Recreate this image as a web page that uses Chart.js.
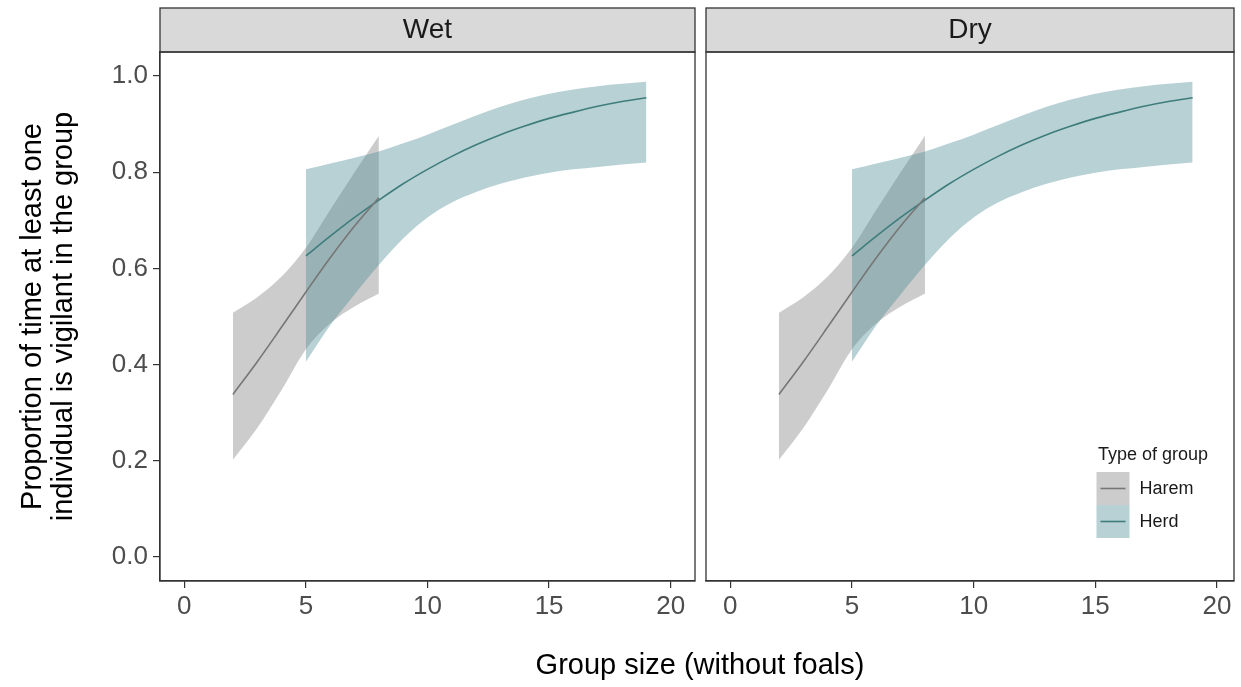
<!DOCTYPE html>
<html>
<head>
<meta charset="utf-8">
<script src="https://cdn.jsdelivr.net/npm/chart.js@4.4.1/dist/chart.umd.min.js"></script>
<style>
  html, body { margin: 0; padding: 0; background: #ffffff; }
  #wrap { position: relative; width: 1241px; height: 687px; overflow: hidden; }
  canvas { position: absolute; top: 0; }
  #cLeft { left: 0; }
  #cRight { left: 700px; }
  #xTitle { position: absolute; left: 450px; width: 500px; top: 647px; text-align: center;
            font-family: "Liberation Sans", Arial, Helvetica, sans-serif; font-size: 29px;
            line-height: 34px; color: #000000; }
</style>
</head>
<body>
<div id="wrap">
  <canvas id="cLeft" width="700" height="687"></canvas>
  <canvas id="cRight" width="541" height="687"></canvas>
  <div id="xTitle">Group size (without foals)</div>
</div>
<script>
// ---------- data ----------
const panelNames = ['Wet', 'Dry'];
const seriesNames = ['Harem', 'Herd'];
const legendTitle = 'Type of group';
const yAxisTitle = ['Proportion of time at least one', 'individual is vigilant in the group'];

const xTickValues = [0, 5, 10, 15, 20];
const yTickValues = [0.0, 0.2, 0.4, 0.6, 0.8, 1.0];

const haremSize  = [2, 3, 4, 5, 6, 7, 8];
const haremFit   = [0.338, 0.406, 0.478, 0.551, 0.622, 0.688, 0.747];
const haremUpper = [0.508, 0.540, 0.583, 0.643, 0.722, 0.800, 0.876];
const haremLower = [0.202, 0.268, 0.347, 0.432, 0.486, 0.521, 0.548];

const herdSize  = [5, 6, 7, 8, 9, 10, 11, 12, 13, 14, 15, 16, 17, 18, 19];
const herdFit   = [0.626, 0.667, 0.706, 0.742, 0.776, 0.806, 0.833, 0.857, 0.878, 0.896, 0.912, 0.925, 0.937, 0.947, 0.955];
const herdUpper = [0.806, 0.818, 0.830, 0.843, 0.860, 0.878, 0.898, 0.918, 0.936, 0.951, 0.963, 0.972, 0.979, 0.984, 0.988];
const herdLower = [0.406, 0.482, 0.546, 0.607, 0.662, 0.706, 0.737, 0.759, 0.776, 0.789, 0.799, 0.806, 0.811, 0.816, 0.820];

// ---------- style ----------
const FONT = '"Liberation Sans", Arial, Helvetica, sans-serif';
const haremLineColor = '#767676';
const herdLineColor  = '#3f7d7d';
const haremFillColor = 'rgba(128,128,128,0.40)';
const herdFillColor  = 'rgba(78,139,150,0.40)';
const frameColor = '#333333';
const stripFill = '#d9d9d9';

function pts(xs, ys) { return xs.map((x, i) => ({ x: x, y: ys[i] })); }

function makeDatasets() {
  const base = { pointRadius: 0, pointHoverRadius: 0, cubicInterpolationMode: 'monotone', tension: 0.4 };
  return [
    Object.assign({}, base, { label: seriesNames[0], data: pts(haremSize, haremFit),
      borderColor: haremLineColor, borderWidth: 1.6, fill: false, order: 0 }),
    Object.assign({}, base, { label: seriesNames[1], data: pts(herdSize, herdFit),
      borderColor: herdLineColor, borderWidth: 1.6, fill: false, order: 0 }),
    Object.assign({}, base, { label: seriesNames[0] + ' upper', data: pts(haremSize, haremUpper),
      borderColor: 'rgba(0,0,0,0)', borderWidth: 0, backgroundColor: haremFillColor, fill: '+1', order: 2 }),
    Object.assign({}, base, { label: seriesNames[0] + ' lower', data: pts(haremSize, haremLower),
      borderColor: 'rgba(0,0,0,0)', borderWidth: 0, fill: false, order: 2 }),
    Object.assign({}, base, { label: seriesNames[1] + ' upper', data: pts(herdSize, herdUpper),
      borderColor: 'rgba(0,0,0,0)', borderWidth: 0, backgroundColor: herdFillColor, fill: '+1', order: 1 }),
    Object.assign({}, base, { label: seriesNames[1] + ' lower', data: pts(herdSize, herdLower),
      borderColor: 'rgba(0,0,0,0)', borderWidth: 0, fill: false, order: 1 })
  ];
}

// strip (facet header) + panel frame
const facetPlugin = {
  id: 'facetFrame',
  beforeDraw(chart) {
    const ctx = chart.ctx, a = chart.chartArea, tb = chart.titleBlock;
    ctx.save();
    ctx.fillStyle = stripFill;
    ctx.fillRect(a.left, tb.top, a.right - a.left, a.top - tb.top);
    ctx.restore();
  },
  afterDraw(chart) {
    const ctx = chart.ctx, a = chart.chartArea, tb = chart.titleBlock;
    ctx.save();
    ctx.strokeStyle = frameColor;
    ctx.lineWidth = 1.3;
    ctx.strokeRect(a.left, tb.top, a.right - a.left, a.top - tb.top);
    ctx.strokeRect(a.left, a.top, a.right - a.left, a.bottom - a.top);
    ctx.restore();
  }
};

// ggplot-style legend inside right panel
const legendPlugin = {
  id: 'ggLegend',
  afterDraw(chart, args, opts) {
    if (!opts || !opts.show) return;
    const ctx = chart.ctx, a = chart.chartArea;
    const keyLeft = a.right - 137.5;
    const keyTop = a.bottom - 109;
    const key = 33;
    ctx.save();
    ctx.fillStyle = '#1a1a1a';
    ctx.font = '18px ' + FONT;
    ctx.textBaseline = 'middle';
    ctx.textAlign = 'left';
    ctx.fillText(legendTitle, keyLeft + 1.5, keyTop - 17);
    const entries = [
      { name: seriesNames[0], fill: haremFillColor, line: haremLineColor },
      { name: seriesNames[1], fill: herdFillColor, line: herdLineColor }
    ];
    entries.forEach((e, i) => {
      const top = keyTop + i * key;
      ctx.fillStyle = '#ffffff';
      ctx.fillRect(keyLeft, top, key, key);
      ctx.fillStyle = e.fill;
      ctx.fillRect(keyLeft, top, key, key);
      ctx.strokeStyle = e.line;
      ctx.lineWidth = 1.6;
      ctx.beginPath();
      ctx.moveTo(keyLeft + 4, top + key / 2);
      ctx.lineTo(keyLeft + key - 4, top + key / 2);
      ctx.stroke();
      ctx.fillStyle = '#1a1a1a';
      ctx.fillText(e.name, keyLeft + key + 10, top + key / 2 + 1);
    });
    ctx.restore();
  }
};

function makeChart(canvasId, panelIdx, isLeft, xMax) {
  const ctx = document.getElementById(canvasId).getContext('2d');
  return new Chart(ctx, {
    type: 'line',
    data: { datasets: makeDatasets() },
    plugins: [facetPlugin, legendPlugin],
    options: {
      responsive: false,
      animation: false,
      devicePixelRatio: 1,
      events: [],
      layout: { padding: isLeft ? { top: 8, right: 5, left: 0, bottom: 0 } : { top: 8, right: 7, left: 6, bottom: 0 } },
      plugins: {
        legend: { display: false },
        tooltip: { enabled: false },
        title: {
          display: true, text: panelNames[panelIdx], fullSize: false,
          color: '#1a1a1a', font: { family: FONT, size: 28, weight: 'normal', lineHeight: 1.2 },
          padding: { top: 5.2, bottom: 5.2 }
        },
        ggLegend: { show: !isLeft }
      },
      scales: {
        x: {
          type: 'linear', min: -1, max: xMax,
          afterBuildTicks: s => { s.ticks = xTickValues.map(v => ({ value: v })); },
          afterFit: s => { s.height = 106; },
          grid: { drawOnChartArea: false, drawTicks: true, tickLength: 7, color: frameColor, lineWidth: 1.2 },
          border: { display: true, color: frameColor, width: 1.2 },
          ticks: { color: '#4d4d4d', font: { family: FONT, size: 26 }, padding: 3, maxRotation: 0,
                   callback: v => String(v) },
          title: { display: false }
        },
        y: {
          type: 'linear', min: -0.05, max: 1.05, display: isLeft,
          afterBuildTicks: s => { s.ticks = yTickValues.map(v => ({ value: v })); },
          afterFit: s => { s.width = isLeft ? 160 : 0; },
          grid: { drawOnChartArea: false, drawTicks: true, tickLength: 7, color: frameColor, lineWidth: 1.2 },
          border: { display: true, color: frameColor, width: 1.2 },
          ticks: { color: '#4d4d4d', font: { family: FONT, size: 26 }, padding: 5,
                   callback: v => Number(v).toFixed(1) },
          title: {
            display: true, text: yAxisTitle, color: '#000000',
            font: { family: FONT, size: 29, lineHeight: 1.05 },
            padding: { top: 18, bottom: 0 }
          }
        }
      }
    }
  });
}

makeChart('cLeft', 0, true, 21);
makeChart('cRight', 1, false, 20.7);
</script>
</body>
</html>
